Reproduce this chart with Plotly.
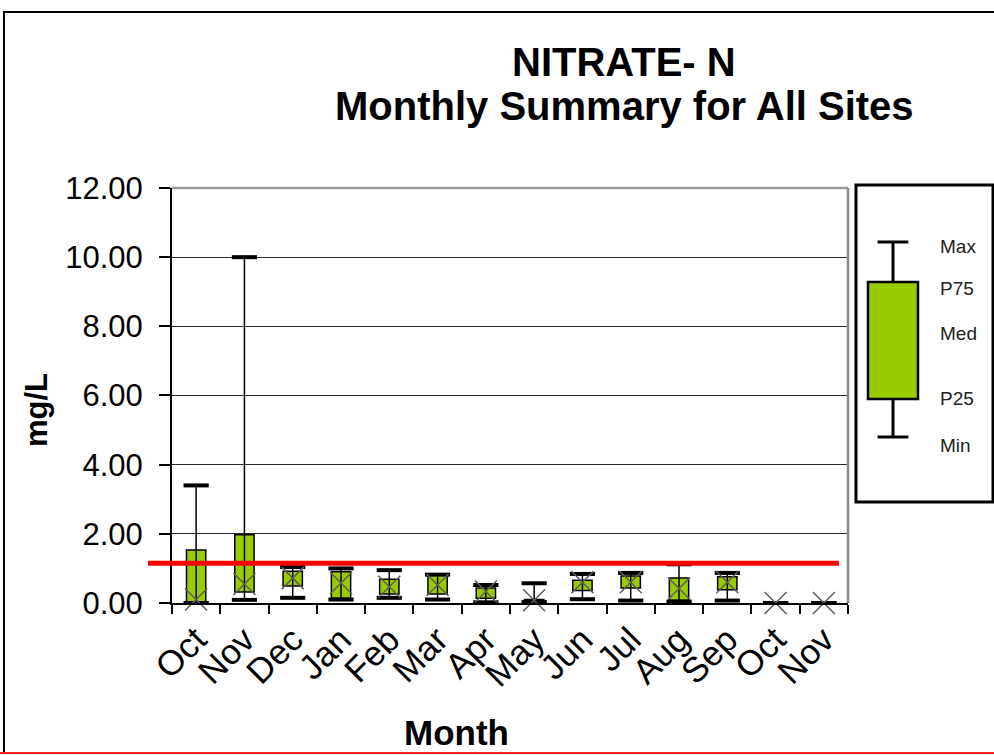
"""Nitrate-N monthly box summary, drawn with bars, whiskers and markers."""

import numpy as np
import plotly.graph_objects as go

MONTHS = ["Oct", "Nov", "Dec", "Jan", "Feb", "Mar", "Apr", "May",
          "Jun", "Jul", "Aug", "Sep", "Oct", "Nov"]
MIN_VAL = [0.00, 0.09, 0.15, 0.10, 0.15, 0.10, 0.02, 0.03, 0.11, 0.07, 0.04, 0.07, 0.00, 0.00]
P25 = [0.00, 0.32, 0.49, 0.14, 0.26, 0.26, 0.14, 0.04, 0.36, 0.43, 0.08, 0.38, 0.00, 0.00]
MEDIAN = [0.10, 0.55, 0.72, 0.58, 0.47, 0.52, 0.33, 0.08, 0.60, 0.60, 0.42, 0.60, 0.00, 0.00]
P75 = [1.53, 1.97, 0.92, 0.90, 0.69, 0.81, 0.43, 0.10, 0.66, 0.78, 0.72, 0.76, 0.00, 0.00]
MAX_VAL = [3.40, 10.00, 1.04, 1.00, 0.95, 0.82, 0.52, 0.57, 0.84, 0.87, 1.12, 0.87, 0.00, 0.00]
THRESHOLD = 1.15

# schematic glyph for the key box (arbitrary units)
LEGEND_STATS = {"min": 65, "p25": 103, "p75": 220, "max": 260}
LEGEND_LABELS = ["Max", "P75", "Med", "P25", "Min"]
LEGEND_LABEL_Y = [254, 212, 167, 102, 55]

GREEN = "#99CC00"
FONT = "Arial, Liberation Sans, sans-serif"

x = np.arange(len(MONTHS))

# whisker segments, min to max for each month
wx, wy = [], []
for i in x:
    wx += [i, i, None]
    wy += [MIN_VAL[i], MAX_VAL[i], None]

fig = go.Figure()
fig.add_trace(go.Scatter(x=wx, y=wy, mode="lines", line={"color": "black", "width": 1.5},
                         hoverinfo="skip", cliponaxis=False))
fig.add_trace(go.Bar(
    x=x, base=P25, y=np.array(P75) - np.array(P25), width=0.4,
    marker={"color": GREEN, "line": {"color": "black", "width": 1.5}},
    customdata=np.stack([MIN_VAL, P25, MEDIAN, P75, MAX_VAL], axis=1),
    hovertemplate="Min %{customdata[0]:.2f}<br>P25 %{customdata[1]:.2f}<br>Med %{customdata[2]:.2f}"
                  "<br>P75 %{customdata[3]:.2f}<br>Max %{customdata[4]:.2f}<extra></extra>",
))
fig.add_trace(go.Scatter(
    x=np.concatenate([x, x]), y=MIN_VAL + MAX_VAL, mode="markers", cliponaxis=False,
    marker={"symbol": "line-ew", "size": 18, "line": {"color": "black", "width": 4}},
    hoverinfo="skip",
))
fig.add_trace(go.Scatter(
    x=x, y=MEDIAN, mode="markers", cliponaxis=False,
    marker={"symbol": "x-thin", "size": 22, "line": {"color": "#5e5e5e", "width": 1.5}},
    hovertemplate="Med %{y:.2f}<extra></extra>",
))

# key glyph on its own little axes
lx = 37
fig.add_trace(go.Scatter(
    x=[lx, lx, None, lx, lx], y=[LEGEND_STATS["p75"], LEGEND_STATS["max"], None,
                                 LEGEND_STATS["min"], LEGEND_STATS["p25"]],
    mode="lines", line={"color": "black", "width": 3}, xaxis="x2", yaxis="y2", hoverinfo="skip",
))
fig.add_trace(go.Bar(
    x=[lx], base=[LEGEND_STATS["p25"]], y=[LEGEND_STATS["p75"] - LEGEND_STATS["p25"]], width=50,
    marker={"color": GREEN, "line": {"color": "black", "width": 2.5}},
    xaxis="x2", yaxis="y2", hoverinfo="skip",
))
fig.add_trace(go.Scatter(
    x=[lx, lx], y=[LEGEND_STATS["min"], LEGEND_STATS["max"]], mode="markers",
    marker={"symbol": "line-ew", "size": 22, "line": {"color": "black", "width": 3}},
    xaxis="x2", yaxis="y2", hoverinfo="skip",
))
fig.add_trace(go.Scatter(
    x=[84] * len(LEGEND_LABELS), y=LEGEND_LABEL_Y, mode="text", text=LEGEND_LABELS,
    textposition="middle right", textfont={"family": FONT, "size": 19, "color": "#222"},
    xaxis="x2", yaxis="y2", hoverinfo="skip",
))

PLOT_RIGHT = 0.8224
PLOT_TOP = 0.9811

fig.update_layout(
    width=994, height=755,
    margin={"l": 172, "r": 0, "t": 180, "b": 152},
    paper_bgcolor="white", plot_bgcolor="white",
    showlegend=False,
    font={"family": FONT, "color": "black"},
    xaxis={
        "domain": [0, PLOT_RIGHT], "range": [-0.5, len(MONTHS) - 0.5],
        "tickvals": x, "ticktext": MONTHS, "tickangle": -45, "ticks": "",
        "tickfont": {"size": 35}, "showgrid": False, "zeroline": False,
        "showline": True, "linecolor": "black", "linewidth": 2,
        "minor": {"tickvals": np.arange(-0.5, len(MONTHS), 1.0), "ticks": "outside",
                  "ticklen": 9, "tickcolor": "black", "tickwidth": 1.5},
    },
    yaxis={
        "domain": [0, PLOT_TOP], "range": [0, 12], "dtick": 2, "tickformat": ".2f",
        "tickfont": {"size": 31}, "ticks": "outside", "ticklen": 11, "tickcolor": "black",
        "tickwidth": 1.5, "ticklabelstandoff": 10,
        "showgrid": True, "gridcolor": "#2a2a2a", "gridwidth": 1, "zeroline": False,
        "showline": True, "linecolor": "black", "linewidth": 2,
    },
    xaxis2={"domain": [0.8321, 1.0], "range": [0, 138], "visible": False, "anchor": "y2",
            "fixedrange": True},
    yaxis2={"domain": [0.2388, 0.9882], "range": [0, 317], "visible": False, "anchor": "x2",
            "fixedrange": True},
    shapes=[
        # outer frame and red rule at the bottom
        {"type": "rect", "xref": "paper", "yref": "paper", "x0": -0.2044, "x1": 1.05,
         "y0": -0.3546, "y1": 1.397, "line": {"color": "black", "width": 2}, "layer": "below"},
        {"type": "line", "xref": "paper", "yref": "paper", "x0": -0.25, "x1": 1.05,
         "y0": -0.3546, "y1": -0.3546, "line": {"color": "#ff2020", "width": 2}},
        # grey top/right edges of the plot area
        {"type": "line", "xref": "paper", "yref": "paper", "x0": 0, "x1": PLOT_RIGHT,
         "y0": PLOT_TOP, "y1": PLOT_TOP, "line": {"color": "#9a9a9a", "width": 2.5}},
        {"type": "line", "xref": "paper", "yref": "paper", "x0": PLOT_RIGHT, "x1": PLOT_RIGHT,
         "y0": 0, "y1": PLOT_TOP, "line": {"color": "#8a8a8a", "width": 2.5}},
        # threshold line
        {"type": "line", "xref": "paper", "yref": "y", "x0": -0.0292, "x1": 0.8114,
         "y0": THRESHOLD, "y1": THRESHOLD, "line": {"color": "#ff0000", "width": 5}},
        # key frame
        {"type": "rect", "xref": "paper", "yref": "paper", "x0": 0.8321, "x1": 0.9988,
         "y0": 0.2388, "y1": 0.9882, "line": {"color": "black", "width": 3}},
    ],
    annotations=[
        {"text": "<b>NITRATE- N</b>", "xref": "paper", "yref": "paper", "x": 0.5499, "y": 1.279,
         "showarrow": False, "font": {"size": 40}, "xanchor": "center", "yanchor": "middle"},
        {"text": "<b>Monthly Summary for All Sites</b>", "xref": "paper", "yref": "paper",
         "x": 0.5499, "y": 1.175, "showarrow": False, "font": {"size": 40},
         "xanchor": "center", "yanchor": "middle"},
        {"text": "<b>mg/L</b>", "xref": "paper", "yref": "paper", "x": -0.1655, "y": 0.456,
         "textangle": -90, "showarrow": False, "font": {"size": 31},
         "xanchor": "center", "yanchor": "middle"},
        {"text": "<b>Month</b>", "xref": "paper", "yref": "paper", "x": 0.3467, "y": -0.307,
         "showarrow": False, "font": {"size": 35}, "xanchor": "center", "yanchor": "middle"},
    ],
)

# drop the page's default body margin so the figure sits at the window's corner
fig.write_html("out.html", config={"displayModeBar": False},
               post_script="document.body.style.margin='0';")
